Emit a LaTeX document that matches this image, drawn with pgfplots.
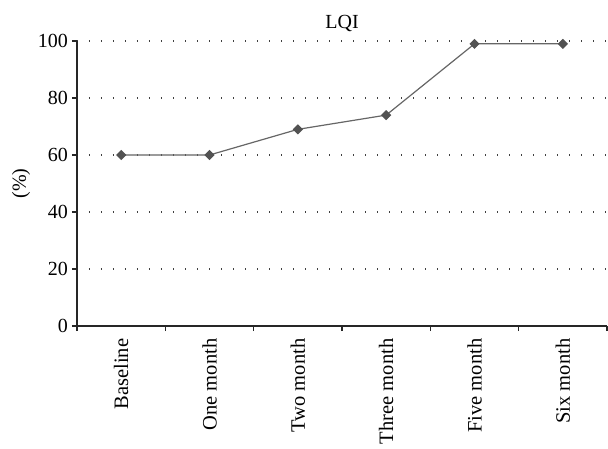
\documentclass[border=0pt]{standalone}
\usepackage{fontspec}
\setmainfont{Liberation Serif}
\usepackage{pgfplots}
\pgfplotsset{compat=1.18}
\begin{document}
\fontsize{20bp}{24bp}\selectfont
\begin{tikzpicture}
\begin{axis}[
  at={(0,0)}, anchor=south west,
  scale only axis, width=530bp, height=285bp,
  xmin=-0.5, xmax=5.5, ymin=0, ymax=100,
  axis x line*=bottom, axis y line*=left,
  axis line style={line width=1.2bp, draw=black!85, -},
  tick align=outside,
  xtick={0,...,5},
  xticklabels={Baseline,One month,Two month,Three month,Five month,Six month},
  x tick label style={rotate=90, anchor=east, inner xsep=7.5bp, font=\fontsize{20.5bp}{24bp}\selectfont},
  major x tick style={draw=none},
  minor xtick={-0.5,0.5,...,5.5},
  minor tick length=5bp, major tick length=5bp,
  every tick/.style={line width=1.2bp, black!85},
  ytick={0,20,...,100},
  y tick label style={font=\fontsize{20bp}{24bp}\selectfont, inner xsep=4bp},
  ymajorgrids,
  major grid style={line width=1.3bp, black!75, dash pattern=on 1.2bp off 10.8bp},
  /pgf/number format/assume math mode=true,
  every axis title shift=0pt,
  title={LQI},
  title style={font=\fontsize{20bp}{24bp}\selectfont, at={(axis description cs:0.5,1)}, anchor=base, yshift=12bp},
  ylabel={(\%)},
  ylabel style={font=\fontsize{20bp}{24bp}\selectfont, at={(axis description cs:0,0.5)}, anchor=center, yshift=56bp},
  clip=false,
]
\addplot[line width=1.2bp, color=black!60, mark=square*,
  mark options={rotate=45, fill=black!68, draw=black!68}, mark size=3bp]
  coordinates {(0,60) (1,60) (2,69) (3,74) (4,99) (5,99)};
\end{axis}
\pgfresetboundingbox
\path[use as bounding box] (-77bp,-123bp) rectangle (531bp,326bp);
\end{tikzpicture}
\end{document}
